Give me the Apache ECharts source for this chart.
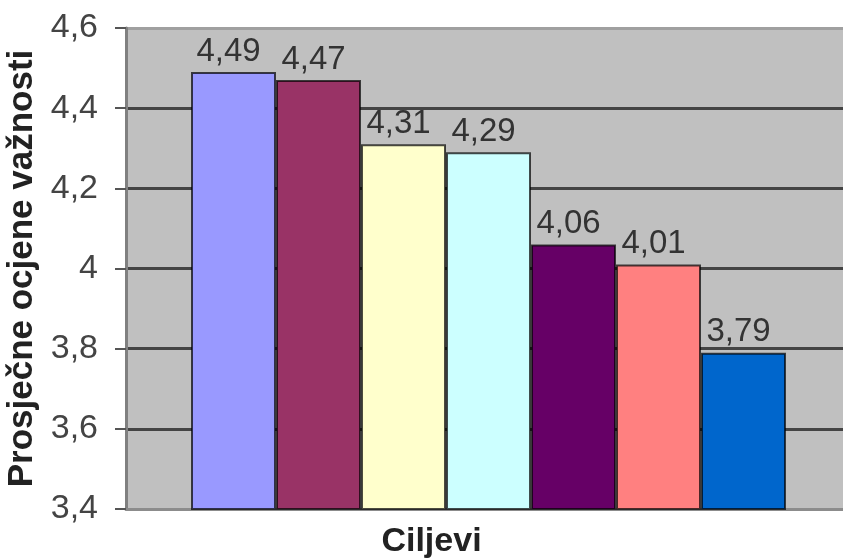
<!DOCTYPE html>
<html>
<head>
<meta charset="utf-8">
<script src="https://cdn.jsdelivr.net/npm/echarts@6/dist/echarts.min.js"></script>
<style>html,body{margin:0;padding:0;background:#fff}#c{width:843px;height:558px}</style>
</head>
<body>
<div id="c"></div>
<script>
const categories = [''];
const values = [4.49, 4.47, 4.31, 4.29, 4.06, 4.01, 3.79];
const colors = ['#9999ff', '#993366', '#ffffcc', '#ccffff', '#660066', '#ff8080', '#0066cc'];
const yTicks = [3.4, 3.6, 3.8, 4.0, 4.2, 4.4, 4.6];
const yTitle = 'Prosječne ocjene važnosti';
const xTitle = 'Ciljevi';

const fmt = v => String(Math.round(v * 100) / 100).replace('.', ',');
const font = '"Liberation Sans", Arial, sans-serif';

const chart = echarts.init(document.getElementById('c'));
chart.setOption({
  animation: false,
  grid: { left: 126, right: -8, top: 28, bottom: 49, show: true, backgroundColor: '#c0c0c0', borderWidth: 0, outerBoundsMode: 'none', containLabel: false },
  xAxis: {
    type: 'category', data: categories,
    axisLine: { show: true, lineStyle: { color: '#8c8c8c', width: 3 } },
    axisTick: { show: false }, axisLabel: { show: false },
    name: xTitle, nameLocation: 'middle', nameGap: 16,
    nameTextStyle: { fontFamily: font, fontWeight: 'bold', fontSize: 34, color: '#222', padding: [0, 114, 0, 0] }
  },
  yAxis: {
    type: 'value', min: yTicks[0], max: yTicks[yTicks.length - 1], interval: 0.2,
    axisLine: { show: true, lineStyle: { color: '#808080', width: 3 } },
    axisTick: { show: true, length: 11, lineStyle: { color: '#555', width: 2 } },
    axisLabel: { formatter: fmt, fontFamily: font, fontSize: 34, color: '#444', margin: 28 },
    splitLine: { show: true, lineStyle: { color: ['#999', '#444', '#444', '#444', '#444', '#444', '#a0a0a0'], width: 3 } },
    name: yTitle, nameLocation: 'middle', nameGap: 73, nameRotate: 90,
    nameTextStyle: { fontFamily: font, fontWeight: 'bold', fontSize: 35, color: '#222' }
  },
  series: values.map((v, i) => ({
    type: 'bar', data: [v], barWidth: 85, barGap: '0%',
    itemStyle: { color: colors[i], borderColor: 'rgba(0,0,0,0.7)', borderWidth: 2 },
    label: { show: true, position: 'top', distance: 4, offset: [-5, 0], formatter: p => fmt(p.value),
      fontFamily: font, fontSize: 33, color: '#333' }
  }))
});
</script>
</body>
</html>
